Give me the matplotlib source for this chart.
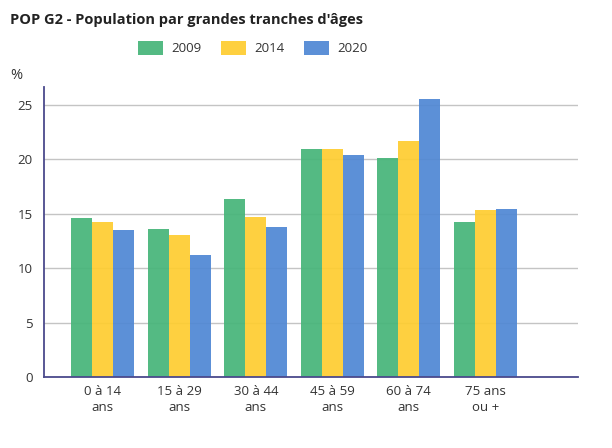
import numpy as np
import matplotlib.pyplot as plt

plt.rcParams['font.family'] = ['Open Sans', 'DejaVu Sans']

categories = ["0 à 14\nans", "15 à 29\nans", "30 à 44\nans", "45 à 59\nans", "60 à 74\nans", "75 ans\nou +"]
years = ["2009", "2014", "2020"]
v2009 = [14.6, 13.6, 16.35, 20.9, 20.1, 14.25]
v2014 = [14.2, 13.05, 14.7, 20.9, 21.65, 15.3]
v2020 = [13.5, 11.2, 13.8, 20.35, 25.5, 15.45]
colors = ["#47b57a", "#fecd31", "#5088d4"]

fig = plt.figure(figsize=(6.12, 4.48), dpi=100)
ax = fig.add_axes([0.0719, 0.1585, 0.944 - 0.0719, 0.806 - 0.1585])

x = np.arange(len(categories))
w = 0.275
for i, (vals, c, lab) in enumerate(zip([v2009, v2014, v2020], colors, years)):
    ax.bar(x + (i - 1) * w, vals, width=w, color=c, alpha=0.93, label=lab, zorder=2)

ax.set_xlim(-0.77, 6.21)
ax.set_ylim(0, 26.65)
ax.set_yticks([0, 5, 10, 15, 20, 25])
ax.set_xticks(x)
ax.set_xticklabels(categories, linespacing=1.25)
ax.yaxis.grid(True, color="#c4c4c4", lw=1, zorder=1)
ax.set_axisbelow(True)
ax.tick_params(length=0, labelsize=9.5, colors="#333333", pad=8)
ax.tick_params(axis="x", pad=6)
for s in ["top", "right"]:
    ax.spines[s].set_visible(False)
for s in ["left", "bottom"]:
    ax.spines[s].set_color("#4b4a8c")
    ax.spines[s].set_linewidth(1.3)

fig.text(0.016, 0.955, "POP G2 - Population par grandes tranches d'âges",
         fontsize=10.5, fontweight="bold", color="#222222", va="center")
fig.text(0.016, 0.832, "%", fontsize=10.5, color="#333333", va="center")

fig.legend(loc="center", bbox_to_anchor=(0.413, 0.893), ncol=3, frameon=False,
           fontsize=9.5, handlelength=1.9, handleheight=1.3, handletextpad=0.6,
           columnspacing=1.5, labelcolor="#333333")

fig.savefig("out.png", dpi=100)
